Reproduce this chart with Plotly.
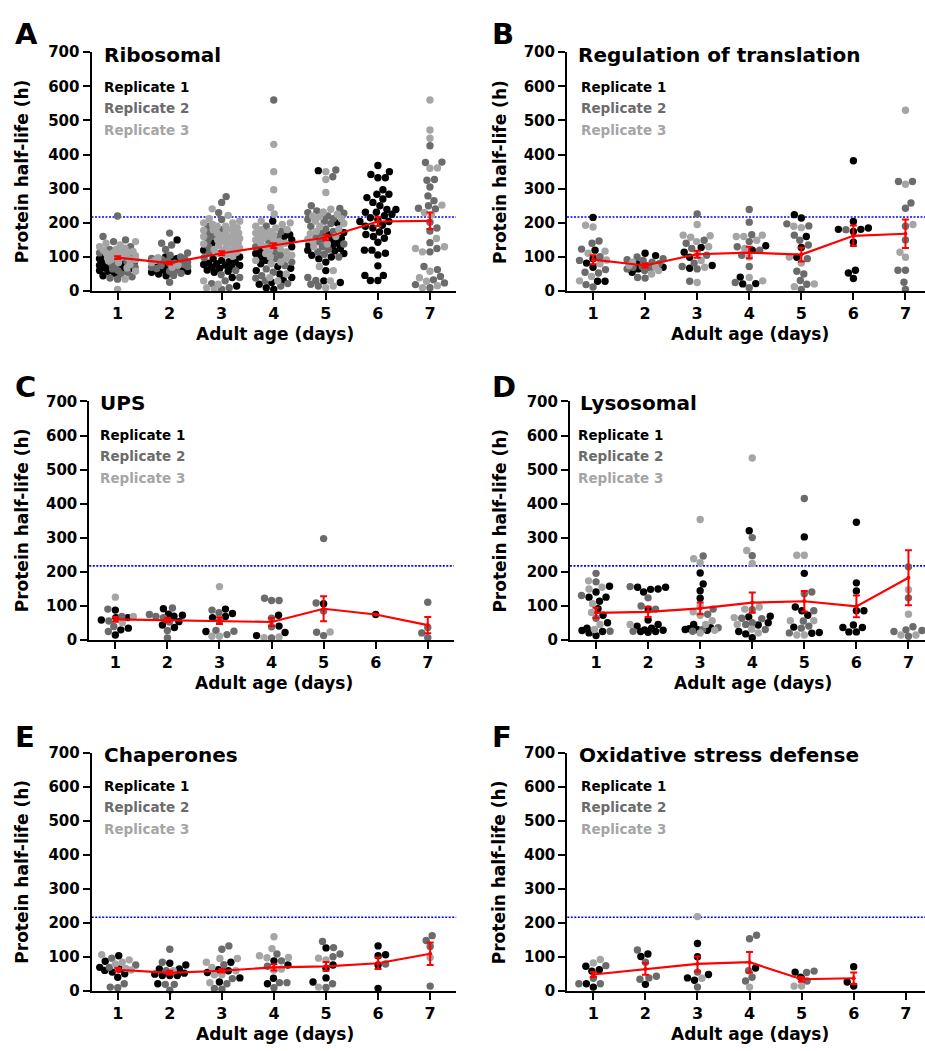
import plotly.graph_objects as go

# ---------------- data ----------------
days = [1, 2, 3, 4, 5, 6, 7]
y_ticks = [0, 100, 200, 300, 400, 500, 600, 700]
threshold_h = 217

panel_letters = ["A", "B", "C", "D", "E", "F"]
panel_titles = ["Ribosomal", "Regulation of translation", "UPS", "Lysosomal",
                "Chaperones", "Oxidative stress defense"]
replicate_names = ["Replicate 1", "Replicate 2", "Replicate 3"]

# Ribosomal (per day 1..7)
ribo_r1 = [
    [45, 52, 58, 62, 66, 70, 72, 75, 78, 80, 82, 85, 88, 90, 92, 95, 98, 102, 60, 68],
    [150, 100, 95, 88, 82, 78, 72, 68, 62, 58, 55, 50, 45, 85, 92],
    [100, 95, 90, 86, 82, 78, 75, 72, 70, 66, 62, 58, 55, 85, 80, 76, 15, 40, 140, 120],
    [205, 165, 160, 150, 120, 100, 90, 80, 72, 67, 60, 50, 40, 32, 25, 20, 10, 5, 110, 130],
    [353, 200, 172, 165, 155, 148, 140, 132, 125, 118, 110, 105, 100, 95, 85, 60, 30, 25, 120, 135],
    [368, 350, 342, 332, 332, 297, 284, 284, 274, 270, 260, 239, 239, 231, 231, 221, 215, 204,
     204, 193, 190, 173, 175, 166, 160, 143, 120, 120, 111, 106, 74, 46, 46, 31, 31, 250, 225,
     210, 185, 155],
    [],
]
ribo_r2 = [
    [220, 160, 150, 145, 130, 122, 112, 104, 96, 90, 86, 80, 75, 70, 65, 60, 55, 50, 42, 38, 35],
    [170, 140, 135, 122, 112, 105, 100, 96, 92, 88, 85, 82, 78, 75, 72, 70, 66, 62, 58, 52, 46, 26, 95, 80],
    [277, 260, 230, 210, 190, 170, 150, 130, 112, 98, 60, 48, 40, 30, 10, 5, 180, 160, 22],
    [560, 190, 175, 160, 145, 130, 115, 105, 95, 85, 75, 65, 55, 45, 38, 30, 22, 15],
    [355, 335, 250, 242, 235, 228, 220, 212, 205, 198, 190, 182, 175, 168, 160, 152, 145, 138,
     130, 122, 115, 108, 100, 40, 31, 20, 15, 230, 210],
    [],
    [426, 377, 378, 327, 325, 305, 279, 265, 250, 243, 241, 202, 185, 176, 142, 125, 115, 72,
     63, 43, 33, 24, 19, 10],
]
ribo_r3 = [
    [5, 35, 58, 68, 78, 84, 88, 92, 96, 99, 102, 106, 110, 114, 118, 122, 126, 130, 135, 140,
     145, 93, 97, 104, 108, 112, 116, 100, 95, 120],
    [98, 90, 84, 76, 70],
    [241, 222, 212, 205, 200, 195, 190, 186, 182, 178, 174, 170, 166, 162, 158, 154, 150, 146,
     142, 138, 134, 130, 126, 122, 118, 114, 110, 106, 102, 30, 20, 10, 5, 200, 190, 180, 170,
     160, 150, 140, 130, 120],
    [430, 350, 297, 245, 226, 205, 200, 195, 190, 185, 180, 175, 170, 165, 160, 155, 150, 145,
     140, 135, 130, 125, 120, 115, 110, 105, 100, 95, 90, 85, 80, 50, 40, 30, 180, 170, 160,
     150, 140],
    [350, 327, 289, 240, 232, 225, 218, 212, 205, 198, 190, 182, 175, 168, 160, 152, 145, 138,
     130, 72, 60, 30, 15, 10, 220],
    [],
    [560, 472, 448, 361, 360, 252, 230, 223, 154, 130, 125, 115, 58, 39, 29, 16, 10],
]
ribo_mean = [98, 82, 111, 133, 157, 204, 206]
ribo_sem = [4, 4, 6, 7, 8, 13, 24]

# Regulation of translation
transl_r1 = [
    [216, 120, 95, 82, 70, 29, 29],
    [104, 111, 80, 70, 55, 65],
    [128, 114, 99, 67, 75],
    [133, 120, 41, 21, 22],
    [224, 214, 160, 128, 99],
    [382, 204, 181, 181, 185, 175, 143, 61, 53, 37],
    [],
]
transl_r2 = [
    [147, 140, 123, 101, 90, 63, 53, 55, 19, 12],
    [100, 95, 90, 85, 80, 75, 70, 65, 60, 40, 38, 92, 72, 68],
    [226, 149, 140, 125, 105, 82, 72, 65, 29],
    [239, 202, 165, 145, 130, 120, 105, 72, 25, 10],
    [197, 191, 164, 149, 135, 95, 58, 50, 31, 20, 5],
    [180],
    [321, 321, 258, 243, 190, 150, 61, 61, 26, 5],
]
transl_r3 = [
    [193, 188, 117, 111, 91, 80, 43, 30],
    [85, 75, 70, 60, 50],
    [195, 162, 164, 158, 145, 130, 110, 90, 70, 25],
    [164, 160, 160, 149, 125, 100, 40, 30],
    [190, 186, 100, 82, 21, 13],
    [],
    [530, 313, 195, 114, 99],
]
transl_mean = [92, 75, 108, 113, 107, 162, 168]
transl_sem = [13, 6, 10, 17, 20, 30, 42]

# UPS
ups_r1 = [
    [87, 65, 65, 58, 34, 14, 29],
    [91, 69, 75, 72, 53, 43, 36],
    [77, 90, 65, 68, 24],
    [72, 40, 21, 12],
    [106],
    [74],
    [],
]
ups_r2 = [
    [90, 68, 55, 39, 24],
    [93, 74, 68, 52, 27, 5, 65],
    [87, 79, 55, 27, 25, 15],
    [122, 115, 115, 63, 38, 5],
    [297, 108, 84, 22, 12],
    [],
    [110, 36, 20, 6],
]
ups_r3 = [
    [125, 68, 50],
    [],
    [156, 10, 10],
    [6, 8],
    [23],
    [],
    [],
]
ups_mean = [60, 58, 56, 52, 91, 74, 43]
ups_sem = [7, 6, 10, 12, 37, None, 24]

# Lysosomal
lyso_r1 = [
    [157, 140, 125, 125, 113, 91, 72, 50, 34, 27, 24, 12, 20],
    [154, 149, 148, 154, 140, 90, 58, 45, 40, 34, 29, 28, 24, 24, 22],
    [196, 164, 144, 122, 45, 32, 30, 30, 28, 35],
    [320, 69, 67, 50, 43, 24, 17, 6],
    [302, 195, 96, 85, 72, 37, 19, 21],
    [345, 167, 143, 85, 85, 43, 36, 36, 23, 23],
    [],
]
lyso_r2 = [
    [195, 170, 130, 63, 25],
    [156, 123, 99, 90, 25],
    [246, 90, 75, 35, 25, 30],
    [300, 247, 88, 63, 62, 50, 30, 45],
    [415, 135, 140, 85, 55, 34, 40, 20],
    [],
    [214, 123, 38, 29, 24, 27, 10],
]
lyso_r3 = [
    [173, 154, 149, 106, 80, 45, 30],
    [45],
    [353, 238, 226, 99, 82, 72, 56, 45, 28, 20],
    [534, 262, 224, 96, 90, 65, 45, 31, 20],
    [248, 248, 56, 56, 14, 14],
    [],
    [147, 75, 14, 14],
]
lyso_mean = [79, 82, 92, 109, 113, 98, 182]
lyso_sem = [15, 15, 17, 30, 30, 32, 81]

# Chaperones
chap_r1 = [
    [104, 88, 70, 65, 61, 56, 51, 41],
    [77, 82, 65, 65, 53, 46, 46, 46, 50, 22],
    [85, 63, 60, 55, 39, 27],
    [89, 77, 38, 22],
    [127, 77, 67, 39, 27],
    [133, 107, 104, 77, 8],
    [],
]
chap_r2 = [
    [97, 77, 22, 10, 12, 70],
    [123, 85, 60, 20, 20, 3],
    [133, 123, 78, 37, 22, 6, 8],
    [89, 109, 73, 25, 25, 10],
    [146, 128, 109, 101, 22, 11],
    [80],
    [163, 149, 131, 15],
]
chap_r3 = [
    [107, 92, 80, 67, 62, 85],
    [60],
    [96, 96, 85, 70, 60, 48, 48, 25],
    [160, 125, 99, 104, 98, 65, 62],
    [97, 92, 12],
    [],
    [99],
]
chap_mean = [63, 54, 60, 70, 73, 82, 110]
chap_sem = [5, 6, 5, 9, 13, 17, 33]

# Oxidative stress defense
oxid_r1 = [
    [63, 73, 59, 22, 12],
    [109, 102, 20],
    [140, 101, 49, 39, 32],
    [68],
    [41, 56],
    [72, 27, 15],
    [],
]
oxid_r2 = [
    [75, 38, 22, 22],
    [121, 85, 44, 35, 39],
    [56, 12],
    [164, 154, 60, 41, 30],
    [59, 55, 30],
    [],
    [],
]
oxid_r3 = [
    [93, 83],
    [],
    [219, 38],
    [12],
    [15, 15],
    [],
    [],
]
oxid_mean = [49, 65, 80, 85, 35, 38, None]
oxid_sem = [7, 17, 22, 30, 7, 17, None]

# ---------------- styling / geometry ----------------
W, H = 925, 1051
FONT = "DejaVu Sans"
rep_colors = ["#000000", "#6b6b6b", "#a5a5a5"]
red = "#ff0000"
px_per_day = 52.07

axis_left_px = [91.5, 567.0, 89.3, 570.0, 91.7, 567.3]
zero_px = [287.0, 287.0, 641.7, 641.7, 999.3, 999.3]
top_px = [44.0, 44.0, 399.3, 399.3, 756.7, 756.7]
title_pos = [(101.7, 46.5), (576.0, 46.5), (98.3, 401.0), (578.3, 401.0),
             (101.7, 758.5), (576.7, 758.5)]
rep_left = [101.7, 579.3, 98.3, 576.0, 101.7, 579.3]
rep_y = [[79.0, 100.7, 122.7], [433.3, 455.0, 477.3], [790.7, 812.3, 834.3]]
letter_pos = [(13, 25.8), (490, 25.8), (13, 384.5), (490, 384.5), (13, 740.3), (490, 740.3)]
ytitle_x = [21.7, 499.3, 21.7, 500.0, 21.7, 499.3]
xtitle_x = [275, 750, 274, 753, 275, 750]

panels = [
    (ribo_r1, ribo_r2, ribo_r3, ribo_mean, ribo_sem),
    (transl_r1, transl_r2, transl_r3, transl_mean, transl_sem),
    (ups_r1, ups_r2, ups_r3, ups_mean, ups_sem),
    (lyso_r1, lyso_r2, lyso_r3, lyso_mean, lyso_sem),
    (chap_r1, chap_r2, chap_r3, chap_mean, chap_sem),
    (oxid_r1, oxid_r2, oxid_r3, oxid_mean, oxid_sem),
]


def swarm(values, px_per_unit, diam=7.4, max_half=18.0):
    """Beeswarm offsets (in px) for a list of values sharing one column."""
    order = sorted(range(len(values)), key=lambda k: values[k])
    steps = []
    k = 0
    while k * 0.5 <= max_half:
        steps.append(k * 0.5)
        k += 1
    placed = []
    offs = [0.0] * len(values)
    for n, idx in enumerate(order):
        y = values[idx] * px_per_unit
        near = [(px, py) for px, py in placed if abs(py - y) < diam]
        sign = 1 if n % 2 == 0 else -1
        best, best_c, best_score = None, 0.0, -1.0
        for s in steps:
            for c in ([0.0] if s == 0 else [sign * s, -sign * s]):
                md = min((((c - px) ** 2 + (y - py) ** 2) ** 0.5 for px, py in near), default=1e9)
                if md >= diam:
                    best = c
                    break
                if md > best_score:
                    best_score, best_c = md, c
            if best is not None:
                break
        if best is None:
            best = best_c
        placed.append((best, y))
        offs[idx] = best
    return offs


fig = go.Figure()
shapes = []
annotations = []
layout_axes = {}


def px2x(p):
    return p / W


def px2y(p):
    return 1 - p / H


for i, (r1, r2, r3, mean, sem) in enumerate(panels):
    xa = "x" if i == 0 else f"x{i + 1}"
    ya = "y" if i == 0 else f"y{i + 1}"
    left = axis_left_px[i]
    right = left + 7 * px_per_day if i % 2 == 0 else W
    xmax = 0.5 + (right - left) / px_per_day
    px_per_unit = (zero_px[i] - top_px[i]) / 700.0

    xs = [[], [], []]
    ys = [[], [], []]
    for d_i, day in enumerate(days):
        vals, reps = [], []
        for r, rep in enumerate((r1, r2, r3)):
            for v in rep[d_i]:
                vals.append(v)
                reps.append(r)
        offs = swarm(vals, px_per_unit)
        for v, r, o in zip(vals, reps, offs):
            xs[r].append(day + o / px_per_day)
            ys[r].append(v)

    for r in range(3):
        fig.add_trace(go.Scatter(
            x=xs[r], y=ys[r], mode="markers", xaxis=xa, yaxis=ya,
            marker=dict(size=7.4, color=rep_colors[r], line=dict(width=0)),
            cliponaxis=False, showlegend=False, hoverinfo="y", name=replicate_names[r]))

    fig.add_trace(go.Scatter(
        x=days, y=mean, mode="lines+markers", xaxis=xa, yaxis=ya,
        line=dict(color=red, width=2.2), marker=dict(size=4, color=red),
        error_y=dict(type="data", array=sem, visible=True, color=red, thickness=2, width=3.5),
        connectgaps=False, cliponaxis=False, showlegend=False, name="Mean"))

    shapes.append(dict(type="line", xref=f"{xa} domain", yref=ya, x0=0, x1=1,
                       y0=threshold_h, y1=threshold_h, layer="below",
                       line=dict(color="#0000ff", width=1.6, dash="2px,1.5px")))

    layout_axes["xaxis" if i == 0 else f"xaxis{i + 1}"] = dict(
        domain=[px2x(left), px2x(right)], range=[0.5, xmax], anchor=ya,
        tickvals=days, ticks="outside", ticklen=7, tickwidth=2, tickcolor="black",
        showline=True, linewidth=2, linecolor="black", showgrid=False, zeroline=False,
        tickfont=dict(family=FONT, size=16, color="black", weight="bold"), fixedrange=True)
    layout_axes["yaxis" if i == 0 else f"yaxis{i + 1}"] = dict(
        domain=[px2y(zero_px[i]), px2y(top_px[i])], range=[0, 700], anchor=xa,
        tickvals=y_ticks, ticks="outside", ticklen=7, tickwidth=2, tickcolor="black",
        showline=True, linewidth=2, linecolor="black", showgrid=False, zeroline=False,
        tickfont=dict(family=FONT, size=15, color="black", weight="bold"), fixedrange=True)

    # texts
    lx, ly = letter_pos[i]
    annotations.append(dict(text=panel_letters[i], x=px2x(lx), y=px2y(ly), xref="paper",
                            yref="paper", xanchor="left", yanchor="middle", showarrow=False,
                            font=dict(family=FONT, size=29, color="black", weight="bold")))
    tx, ty = title_pos[i]
    annotations.append(dict(text=panel_titles[i], x=px2x(tx), y=px2y(ty), xref="paper",
                            yref="paper", xanchor="left", yanchor="middle", showarrow=False,
                            font=dict(family=FONT, size=20, color="black", weight="bold")))
    for r in range(3):
        annotations.append(dict(text=replicate_names[r], x=px2x(rep_left[i]),
                                y=px2y(rep_y[i // 2][r]), xref="paper", yref="paper",
                                xanchor="left", yanchor="middle", showarrow=False,
                                font=dict(family=FONT, size=13.5, color=rep_colors[r],
                                          weight="bold")))
    annotations.append(dict(text="Protein half-life (h)", x=px2x(ytitle_x[i]),
                            y=px2y((zero_px[i] + top_px[i]) / 2), xref="paper", yref="paper",
                            xanchor="center", yanchor="middle", textangle=-90, showarrow=False,
                            font=dict(family=FONT, size=17, color="black", weight="bold")))
    annotations.append(dict(text="Adult age (days)", x=px2x(xtitle_x[i]),
                            y=px2y(zero_px[i] + 44), xref="paper", yref="paper",
                            xanchor="center", yanchor="middle", showarrow=False,
                            font=dict(family=FONT, size=17, color="black", weight="bold")))

fig.update_layout(
    width=W, height=H, margin=dict(l=0, r=0, t=0, b=0),
    paper_bgcolor="white", plot_bgcolor="white", showlegend=False,
    font=dict(family=FONT, color="black"),
    shapes=shapes, annotations=annotations, **layout_axes)

fig.write_html("out.html",
               config={"displayModeBar": False},
               post_script="document.body.style.margin='0';"
                           "document.body.style.overflow='hidden';")
